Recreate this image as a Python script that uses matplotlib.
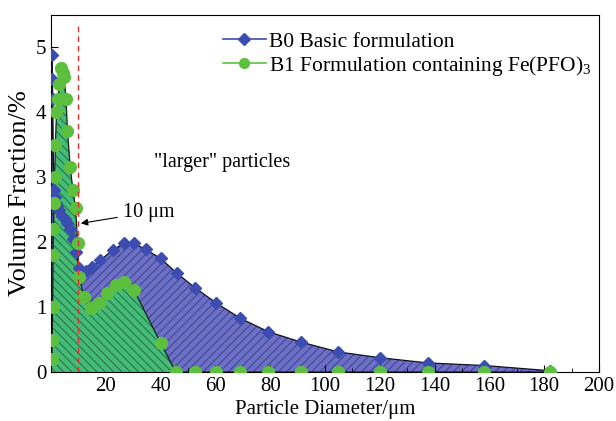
import matplotlib
matplotlib.use("Agg")
import matplotlib.pyplot as plt
from matplotlib.lines import Line2D

# B0 basic formulation: particle diameter (um) vs volume fraction (%)
b0_diam = [0.2, 0.35, 0.5, 0.65, 0.8, 1.0, 1.3, 1.7, 2.3, 3.0, 4.0, 5.0, 6.0,
           7.0, 8.0, 9.0, 10.3, 12.7, 15.0, 18.0, 22.5, 26.6, 30.3, 34.5,
           40.0, 46.0, 52.5, 60.4, 69.0, 79.3, 91.3, 104.7, 120.0, 137.5,
           158.0, 182.0]
b0_frac = [1.0, 4.88, 4.52, 4.2, 3.5, 2.8, 2.7, 2.6, 2.55, 2.5, 2.4, 2.35, 2.3,
           2.2, 2.05, 1.85, 1.6, 1.55, 1.62, 1.72, 1.88, 1.98, 1.98, 1.89,
           1.75, 1.52, 1.30, 1.06, 0.83, 0.62, 0.46, 0.31, 0.22, 0.14,
           0.10, 0.02]

# B1 formulation containing Fe(PFO)3
b1_diam = [0.3, 0.45, 0.6, 0.75, 0.9, 1.1, 1.3, 1.6, 2.0, 2.5, 3.0, 3.6, 4.2,
           4.8, 5.5, 6.0, 7.0, 8.0, 9.0, 9.7, 10.3, 12.0, 14.5, 17.5, 20.6,
           23.6, 26.6, 30.3, 40.0, 45.5, 52.5, 60.4, 69.0, 79.3, 91.3, 104.7,
           120.0, 137.5, 158.0, 182.0]
b1_frac = [0.2, 0.5, 1.0, 1.8, 2.2, 2.6, 3.0, 3.5, 4.0, 4.2, 4.44, 4.68, 4.6,
           4.54, 4.2, 3.72, 3.16, 2.8, 2.52, 1.98, 1.47, 1.16, 0.98, 1.06, 1.21,
           1.34, 1.38, 1.26, 0.45, 0.0, 0.0, 0.0, 0.0, 0.0, 0.0, 0.0,
           0.0, 0.0, 0.0, 0.0]

x_ticks = [20, 40, 60, 80, 100, 120, 140, 160, 180, 200]
y_ticks = [0, 1, 2, 3, 4, 5]

plt.rcParams["font.family"] = ["Liberation Serif", "DejaVu Serif"]
plt.rcParams["mathtext.fontset"] = "custom"
plt.rcParams["mathtext.rm"] = "Liberation Serif"
plt.rcParams["hatch.linewidth"] = 0.6

fig = plt.figure(figsize=(6.16, 4.21), dpi=100)
ax = fig.add_axes([0.0828, 0.1164, 0.8896, 0.848])

blue_fill = "#6b70c6"
green_fill = "#45bb78"
blue_mk = "#3c4db2"
green_mk = "#5cc03e"

# filled areas with hatching
ax.fill_between(b0_diam, b0_frac, 0, facecolor=blue_fill, edgecolor="#363a7e",
                hatch="////", linewidth=0.0, zorder=1)
ax.fill_between(b1_diam, b1_frac, 0, facecolor=green_fill, edgecolor="#22623e",
                hatch="\\\\\\\\", linewidth=0.0, zorder=2)
ax.plot(b0_diam, b0_frac, color="#111122", lw=0.9, zorder=3)
ax.plot(b1_diam, b1_frac, color="#112211", lw=0.9, zorder=3)

# markers
ax.plot(b0_diam, b0_frac, linestyle="none", marker="D", ms=6.5,
        color=blue_mk, zorder=4)
ax.plot(b1_diam, b1_frac, linestyle="none", marker="o", ms=8.5,
        color=green_mk, zorder=5)

# 10 um boundary
ax.vlines(10, 0, 5.38, colors="#e03030", linestyles=(0, (4, 3)), lw=1.0, zorder=6)
ax.annotate("10 μm", xy=(10.9, 2.29), xytext=(26.2, 2.46),
            fontsize=14.5, va="center", ha="left",
            arrowprops=dict(arrowstyle="-|>", color="black", lw=0.8,
                            shrinkA=2, shrinkB=0, mutation_scale=10))
ax.text(37.5, 3.22, '"larger" particles', fontsize=14.5, va="center", ha="left")

ax.set_xlim(0, 200)
ax.set_ylim(0, 5.5)
ax.set_xticks(x_ticks)
ax.set_xticks(range(10, 200, 20), minor=True)
ax.set_yticks(y_ticks)
ax.tick_params(axis="both", which="both", direction="in", labelsize=15)
ax.tick_params(axis="both", which="major", length=5)
ax.tick_params(axis="both", which="minor", length=3)
ax.set_xlabel("Particle Diameter/μm", fontsize=15, labelpad=3)
ax.set_ylabel("Volume Fraction/%", fontsize=19, labelpad=3)

handles = [
    Line2D([], [], color=blue_mk, marker="D", ms=6, lw=1.2),
    Line2D([], [], color=green_mk, marker="o", ms=7, lw=1.2),
]
labels = ["B0 Basic formulation",
          r"B1 Formulation containing Fe(PFO)$_\mathregular{3}$"]
ax.legend(handles, labels, loc="upper left", bbox_to_anchor=(0.29, 0.99),
          frameon=False, fontsize=15.5, handlelength=2.0, handletextpad=0.15,
          labelspacing=0.1, borderaxespad=0.2)

fig.savefig("out.png", dpi=100)
